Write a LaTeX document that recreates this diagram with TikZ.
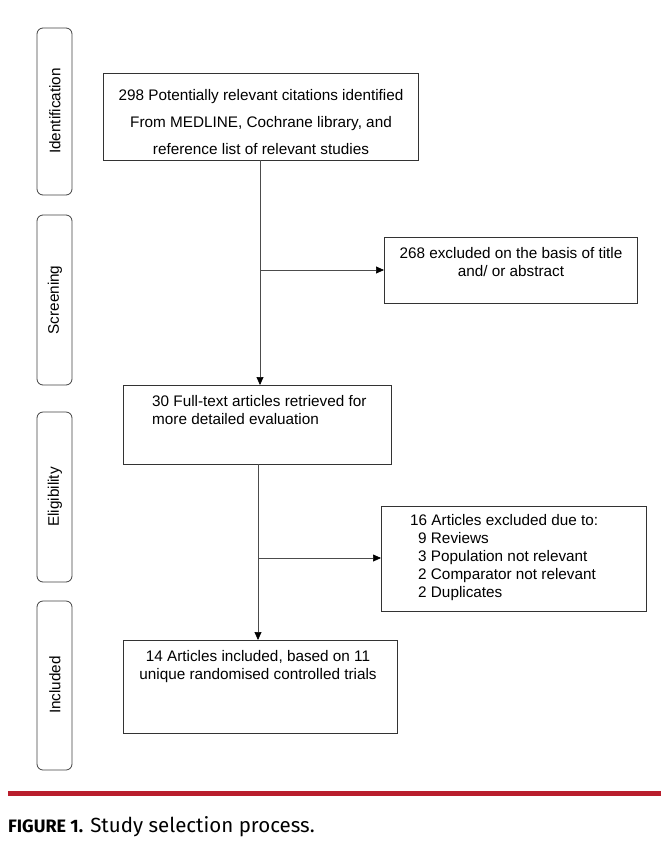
\documentclass[tikz,border=0pt]{standalone}
\usepackage{fontspec}
\setmainfont{Liberation Sans}
\newfontfamily\capfont{Fira Sans}
\usetikzlibrary{arrows.meta}
\definecolor{capred}{RGB}{185,30,45}
\begin{document}
\begin{tikzpicture}[x=1pt,y=-1pt,
  box/.style={draw=black!80,line width=0.7pt},
  side/.style={draw=black!75,line width=0.8pt,rounded corners=6pt},
  txt/.style={font=\fontsize{15.3}{18}\selectfont,inner sep=0pt},
  arr/.style={draw=black!70,line width=0.7pt,-{Triangle[length=8pt,width=7pt,color=black]}}]
\useasboundingbox (0,0) rectangle (671,847);
% side phase boxes
\draw[side] (37,28) rectangle (72,195);
\draw[side] (37,215) rectangle (72,385);
\draw[side] (37,412) rectangle (72,582);
\draw[side] (37,601) rectangle (72,770);
\node[txt,rotate=90] (lid) at (55,111) {Identification};
\node[txt,rotate=90] (lsc) at (55,300) {Screening};
\node[txt,rotate=90] (lel) at (55,497) {Eligibility};
\node[txt,rotate=90] (lin) at (55,685) {Included};
% boxes
\draw[box] (103,73) rectangle (418,160);
\node[txt,align=center] (t1) at (261,122) {298 Potentially relevant citations identified\\[9pt]From MEDLINE, Cochrane library, and\\[9pt]reference list of relevant studies};
\draw[box] (384,237) rectangle (637,303);
\node[txt,align=center] (t2) at (511,262) {268 excluded on the basis of title\\and/ or abstract};
\draw[box] (123,385) rectangle (391,464);
\node[txt,align=left,anchor=north west] (t3) at (152,395) {30 Full-text articles retrieved for\\more detailed evaluation};
\draw[box] (381,506) rectangle (646,611);
\node[txt,align=left,anchor=north west] (t4) at (410,514) {16 Articles excluded due to:\\\hspace{8pt}9 Reviews\\\hspace{8pt}3 Population not relevant\\\hspace{8pt}2 Comparator not relevant\\\hspace{8pt}2 Duplicates};
\draw[box] (123,640) rectangle (397,733);
\node[txt,align=center] (t5) at (258,667) {14 Articles included, based on 11\\unique randomised controlled trials};
% connectors
\coordinate (a1) at (260,160); \coordinate (a2) at (260,385);
\coordinate (b1) at (260,270); \coordinate (b2) at (384,270);
\coordinate (c1) at (258,464); \coordinate (c2) at (258,640);
\coordinate (d1) at (258,558); \coordinate (d2) at (381,558);
\draw[arr] (a1) -- (a2);
\draw[arr] (b1) -- (b2);
\draw[arr] (c1) -- (c2);
\draw[arr] (d1) -- (d2);
% caption
\fill[capred] (8,791) rectangle (661,796);
\node[anchor=west,inner sep=0pt,font=\capfont\fontsize{20.5}{24}\selectfont] (cap) at (8,827) {{\bfseries\fontsize{18}{24}\selectfont FIGURE 1.} Study selection process.};
\end{tikzpicture}
\end{document}
